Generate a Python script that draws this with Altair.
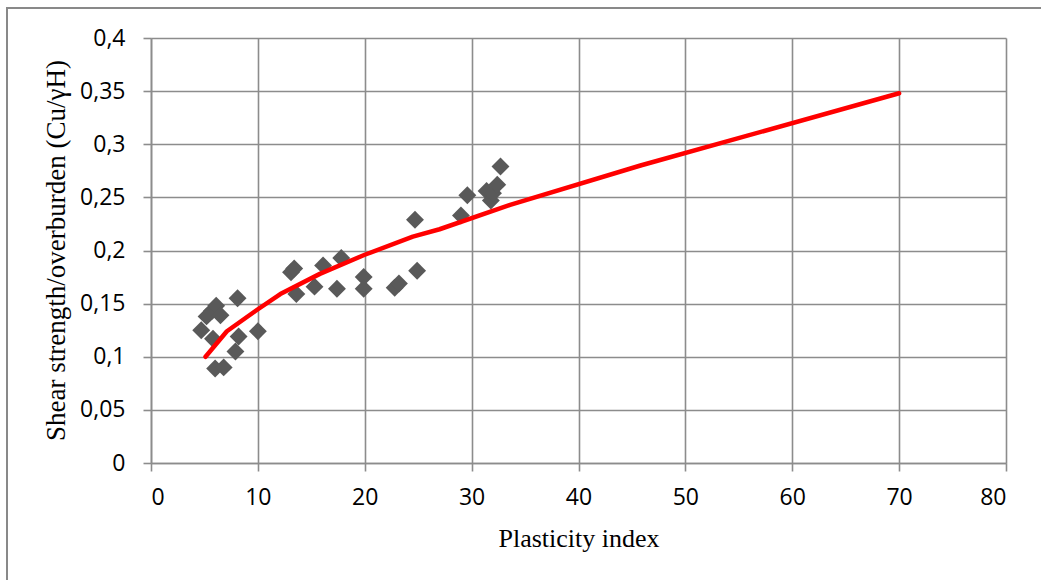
import altair as alt
import pandas as pd

# Measured samples: plasticity index vs. normalised undrained shear strength
pi_values = [4.7, 5.2, 5.7, 6.1, 6.5, 5.8, 8.1, 8.2, 7.9, 10.0, 6.0, 6.8,
             13.1, 13.4, 13.6, 15.3, 16.1, 17.4, 17.8, 19.9, 19.9, 22.8, 23.2, 24.9, 24.7,
             29.0, 29.6, 31.4, 31.8, 32.0, 32.4, 32.7]
su_values = [0.125, 0.138, 0.143, 0.148, 0.139, 0.117, 0.155, 0.119, 0.105, 0.124, 0.089, 0.090,
             0.1795, 0.183, 0.159, 0.166, 0.186, 0.164, 0.193, 0.175, 0.164, 0.165, 0.169, 0.181, 0.229,
             0.233, 0.252, 0.256, 0.247, 0.254, 0.262, 0.279]

# Reference correlation curve
curve_pi = [5.1, 7.1, 9.9, 12.1, 15.8, 20.0, 24.5, 27.0, 33.6, 45.8, 70.0]
curve_su = [0.100, 0.124, 0.144, 0.159, 0.178, 0.196, 0.213, 0.220, 0.243, 0.280, 0.348]

x_ticks = [0, 10, 20, 30, 40, 50, 60, 70, 80]
y_ticks = [0, 0.05, 0.1, 0.15, 0.2, 0.25, 0.3, 0.35, 0.4]

points = pd.DataFrame({"pi": pi_values, "su": su_values})
curve = pd.DataFrame({"pi": curve_pi, "su": curve_su})

GRID = "#8c8c8c"

x_enc = alt.X(
    "pi:Q",
    scale=alt.Scale(domain=[0, 80], nice=False),
    axis=alt.Axis(
        values=x_ticks,
        title="Plasticity index",
        titleFont="Liberation Serif",
        titleFontSize=26,
        titleFontWeight="normal",
        titleColor="black",
        titleBaseline="alphabetic",
        titleY=83,
        labelPadding=15,
    ),
)
y_enc = alt.Y(
    "su:Q",
    scale=alt.Scale(domain=[0, 0.4], nice=False),
    axis=alt.Axis(
        values=y_ticks,
        labelExpr="replace(format(datum.value, '.2~f'), '.', ',')",
        title="Shear strength/overburden  (Cu/\u03b3H)",
        titleFont="Liberation Serif",
        titleFontSize=27,
        titleFontWeight="normal",
        titleColor="black",
        titleAngle=270,
        titleBaseline="middle",
        titleAlign="center",
        titleX=-95,
        titleY=212,
        labelPadding=18,
    ),
)

scatter = alt.Chart(points).mark_point(
    shape="diamond", filled=True, color="#595959", size=320, opacity=1
).encode(x=x_enc, y=y_enc)

line = alt.Chart(curve).mark_line(
    color="#ff0000", strokeWidth=4.5, strokeCap="round", strokeJoin="round"
).encode(x="pi:Q", y="su:Q")

frame = alt.Chart(alt.Data(values=[{}])).mark_rect(
    filled=False, stroke="#898989", strokeWidth=2
).encode(
    x=alt.value(-144), x2=alt.value(900), y=alt.value(-30), y2=alt.value(552)
)

chart = (
    alt.layer(frame, scatter, line)
    .properties(
        width=855,
        height=425,
        autosize=alt.AutoSizeParams(type="none"),
        padding={"left": 151, "top": 38, "right": 35, "bottom": 117},
        background="white",
    )
    .configure_view(stroke=None)
    .configure_axis(
        gridColor=GRID,
        gridWidth=1.6,
        gridOpacity=1,
        domainColor=GRID,
        domainWidth=1.6,
        tickColor=GRID,
        tickWidth=1.6,
        tickSize=8,
        labelFont="Open Sans",
        labelFontSize=23,
        labelColor="black",
    )
)

chart.save("out.html", embed_options={"renderer": "svg", "actions": False})
